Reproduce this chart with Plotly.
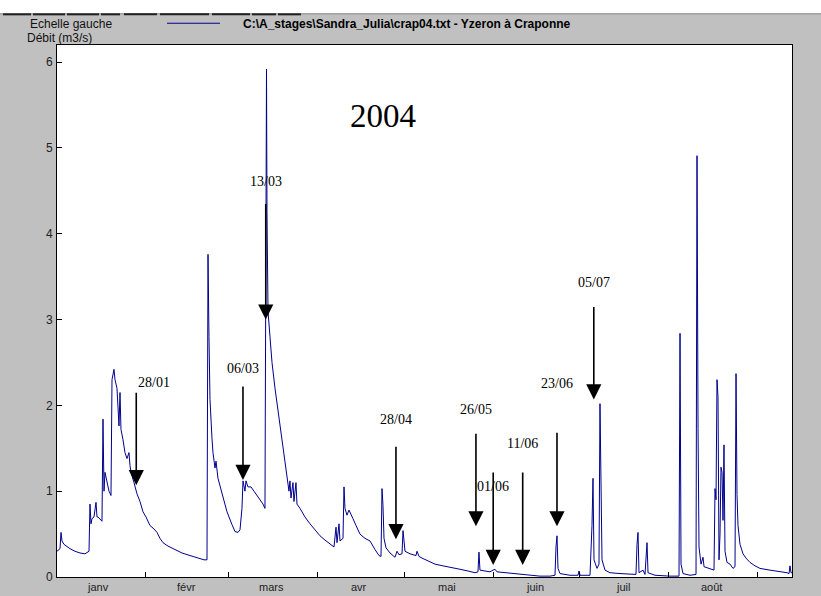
import pandas as pd
import plotly.graph_objects as go

# Débit de l'Yzeron à Craponne, 2004 (temps en jours écoulés depuis le 1er janvier)
t_jours = [
    0.42, 1.46, 1.81, 2.15, 2.85, 4.93, 6.67, 8.41, 10.15, 11.54, 11.88, 12.23, 12.58, 13.27,
    13.97, 14.32, 14.66, 15.71, 16.05, 16.40, 16.75, 17.09, 17.79, 18.49, 19.18, 19.53, 20.22,
    20.57, 21.26, 21.61, 21.96, 22.31, 22.65, 23.35, 24.04, 24.74, 25.43, 25.78, 26.13, 27.17,
    28.21, 29.26, 30.30, 31.34, 32.73, 34.12, 35.16, 36.21, 37.25, 38.99, 41.42, 43.85, 46.63,
    49.41, 51.50, 52.54, 52.89, 53.23, 53.58, 54.28, 54.62, 55.32, 55.67, 56.36, 57.75, 59.49,
    61.23, 62.27, 63.31, 64.01, 64.70, 65.05, 65.74, 66.09, 66.78, 67.83, 68.87, 69.91, 70.96,
    72.00, 72.69, 73.04, 73.22, 73.39, 73.74, 74.43, 75.13, 76.17, 77.21, 78.25, 79.30, 80.34,
    81.03, 81.38, 81.73, 82.42, 82.77, 83.46, 83.81, 84.85, 86.59, 88.33, 90.07, 91.81, 93.55,
    95.28, 96.67, 97.37, 97.72, 98.41, 98.76, 99.80, 100.15, 100.49, 101.19, 101.88, 102.58,
    103.27, 104.32, 105.01, 105.71, 107.45, 109.18, 110.92, 112.31, 113.01, 113.36, 113.70,
    114.05, 114.75, 116.14, 117.88, 118.57, 119.27, 120.31, 120.66, 121.35, 123.09, 125.17,
    125.52, 126.22, 127.26, 129.00, 131.78, 134.54, 136.97, 140.45, 143.23, 145.66, 146.71,
    147.05, 147.40, 149.14, 150.88, 151.92, 152.62, 153.31, 156.09, 157.83, 161.31, 163.74,
    168.26, 171.73, 173.47, 173.82, 174.17, 174.52, 175.21, 178.69, 181.47, 181.82, 182.16,
    185.64, 186.33, 186.68, 187.03, 188.07, 188.76, 189.11, 189.46, 189.81, 190.85, 192.59,
    196.06, 199.54, 201.62, 201.97, 202.32, 202.67, 204.06, 204.75, 205.10, 205.45, 205.80,
    208.23, 213.44, 216.57, 216.92, 217.27, 217.96, 220.40, 222.48, 222.83, 223.18, 223.52,
    224.22, 224.91, 225.26, 227.34, 228.73, 229.08, 229.43, 229.77, 230.12, 230.47, 230.82,
    231.16, 231.51, 231.86, 232.20, 232.55, 233.25, 234.29, 235.33, 236.03, 236.38, 236.72,
    237.07, 237.77, 238.81, 239.85, 241.24, 242.98, 244.72, 248.19, 250.63, 254.10, 254.80,
    255.14, 255.49, 255.84,
]
debit = [
    0.30, 0.33, 0.52, 0.42, 0.38, 0.33, 0.30, 0.28, 0.27, 0.30, 0.85, 0.62, 0.68, 0.70,
    0.87, 0.70, 0.70, 0.67, 0.65, 1.84, 1.00, 1.22, 1.10, 1.00, 0.95, 2.30, 2.42,
    2.30, 2.20, 1.90, 1.76, 2.15, 1.72, 1.60, 1.45, 1.38, 1.45, 1.30, 1.22, 1.10,
    0.97, 0.88, 0.76, 0.70, 0.60, 0.56, 0.52, 0.45, 0.40, 0.36, 0.32, 0.28, 0.25,
    0.22, 0.20, 0.20, 3.76, 2.80, 2.07, 1.61, 1.45, 1.27, 1.35, 1.15, 0.99, 0.76,
    0.61, 0.53, 0.52, 0.55, 0.80, 1.12, 1.00, 1.12, 1.05, 1.05, 1.00, 0.95, 0.90,
    0.85, 0.80, 3.40, 5.92, 4.26, 3.10, 2.80, 2.50, 2.20, 1.95, 1.70, 1.45, 1.20,
    1.00, 1.12, 0.92, 1.10, 0.88, 1.10, 0.85, 0.80, 0.70, 0.62, 0.55, 0.48, 0.43,
    0.38, 0.35, 0.58, 0.40, 0.62, 0.42, 0.45, 1.05, 0.80, 0.72, 0.78, 0.72,
    0.68, 0.60, 0.55, 0.50, 0.45, 0.42, 0.32, 0.25, 0.24, 1.03, 0.83,
    0.45, 0.34, 0.28, 0.23, 0.30, 0.26, 0.27, 0.54, 0.30, 0.27, 0.25,
    0.30, 0.24, 0.22, 0.19, 0.15, 0.13, 0.11, 0.09, 0.07, 0.05, 0.06,
    0.29, 0.08, 0.07, 0.06, 0.08, 0.09, 0.06, 0.05, 0.04, 0.03, 0.02,
    0.01, 0.01, 0.02, 0.35, 0.48, 0.10, 0.04, 0.02, 0.02, 0.07, 0.02,
    0.02, 0.60, 1.15, 0.20, 0.10, 0.15, 2.02, 1.09, 0.20, 0.08, 0.05,
    0.04, 0.03, 0.03, 0.38, 0.52, 0.05, 0.08, 0.03, 0.25, 0.40, 0.05,
    0.02, 0.01, 0.01, 2.84, 0.15, 0.04, 0.02, 0.03, 4.91, 1.73, 0.35,
    0.15, 0.23, 0.12, 0.10, 0.08, 1.03, 0.90, 2.30, 2.10, 0.20, 0.50,
    1.28, 1.22, 0.66, 1.54, 0.30, 0.17, 0.15, 0.10, 0.12, 2.37, 0.96,
    0.60, 0.38, 0.27, 0.22, 0.17, 0.13, 0.10, 0.08, 0.07, 0.05, 0.04,
    0.13, 0.05, 0.05,
]

# Événements repérés (date, débit visé par la flèche, hauteur du libellé en m3/s)
evt_labels = ["28/01", "06/03", "13/03", "28/04", "26/05", "01/06", "11/06", "23/06", "05/07"]
evt_dates = ["2004-01-28 23:00", "2004-03-06 01:00", "2004-03-13 23:00", "2004-04-28 05:00",
             "2004-05-26 00:00", "2004-06-01 00:00", "2004-06-11 06:00", "2004-06-23 04:00",
             "2004-07-05 23:00"]
evt_debit = [1.07, 1.13, 3.00, 0.44, 0.59, 0.14, 0.14, 0.59, 2.07]
evt_label_y = [2.27, 2.43, 4.61, 1.84, 1.95, 1.06, 1.56, 2.25, 3.43]
evt_arrow_len = [94, 95, 117, 94, 94, 94, 94, 95, 94]

mois = ["janv", "févr", "mars", "avr", "mai", "juin", "juil", "août"]
mois_centre = ["2004-01-15 12:00", "2004-02-15 12:00", "2004-03-16", "2004-04-15 12:00",
               "2004-05-16", "2004-06-15 12:00", "2004-07-16", "2004-08-16"]
mois_debut = ["2004-02-01", "2004-03-01", "2004-04-01", "2004-05-01", "2004-06-01",
              "2004-07-01", "2004-08-01", "2004-09-01"]

t0 = pd.Timestamp("2004-01-01")
temps = t0 + pd.to_timedelta(t_jours, unit="D")

W, H = 821, 596
L, R, T, B = 57, 792, 45, 583  # cadre du graphique en pixels


def px(x):
    return (x - L) / (R - L)


def py(y):
    return (B - y) / (B - T)


fig = go.Figure()
fig.add_trace(go.Scatter(x=temps, y=debit, mode="lines",
                         line=dict(color="#00008c", width=1), hoverinfo="skip",
                         showlegend=False))

annotations = []
for lab, d, q, ly, alen in zip(evt_labels, evt_dates, evt_debit, evt_label_y, evt_arrow_len):
    annotations.append(dict(x=d, y=q, xref="x", yref="y", text="", showarrow=True,
                            ax=0, ay=-alen, arrowhead=2, arrowsize=1.9, arrowwidth=1.6,
                            arrowcolor="black"))
    annotations.append(dict(x=d, y=ly, xref="x", yref="y", text=lab, showarrow=False,
                            xanchor="left" if lab == "28/01" else "center", yanchor="middle",
                            font=dict(family="Liberation Serif", size=14, color="black")))

for m, c in zip(mois, mois_centre):
    annotations.append(dict(x=c, y=0, xref="x", yref="paper", yanchor="top", text=m,
                            showarrow=False, yshift=-2,
                            font=dict(family="Liberation Sans", size=11, color="#222")))

annotations += [
    dict(x=px(383), y=py(117), xref="paper", yref="paper", xanchor="center", yanchor="middle",
         text="2004", showarrow=False,
         font=dict(family="Liberation Serif", size=33, color="black")),
    dict(x=px(28), y=py(24), xref="paper", yref="paper", xanchor="left", yanchor="middle",
         text="Echelle gauche",
         showarrow=False, font=dict(family="Liberation Sans", size=12, color="#111")),
    dict(x=px(25), y=py(38), xref="paper", yref="paper", xanchor="left", yanchor="middle",
         text="Débit (m3/s)",
         showarrow=False, font=dict(family="Liberation Sans", size=12, color="#111")),
    dict(x=px(241), y=py(24), xref="paper", yref="paper", xanchor="left", yanchor="middle",
         text="<b>C:\\A_stages\\Sandra_Julia\\crap04.txt - Yzeron à Craponne</b>",
         showarrow=False, font=dict(family="Liberation Sans", size=12, color="black")),
]

shapes = [
    # bandeau blanc en haut de la fenêtre
    dict(type="rect", xref="paper", yref="paper", x0=px(0), x1=px(W), y0=py(13), y1=py(-5),
         fillcolor="white", line=dict(width=0), layer="below"),
    dict(type="line", xref="paper", yref="paper", x0=px(0), x1=px(W), y0=py(13.5), y1=py(13.5),
         line=dict(color="#8a8a8a", width=1)),
    # trait de légende
    dict(type="line", xref="paper", yref="paper", x0=px(167), x1=px(220), y0=py(23), y1=py(23),
         line=dict(color="#00008c", width=1)),
]
# barre d'outils sombre au bord supérieur
for a, b in [(3, 31), (33, 65), (67, 99), (101, 120), (124, 157), (160, 209), (212, 250),
             (252, 276), (278, 301)]:
    shapes.append(dict(type="line", xref="paper", yref="paper", x0=px(a), x1=px(b),
                       y0=py(14), y1=py(14), line=dict(color="#222", width=2)))

fig.update_layout(
    width=W, height=H,
    margin=dict(l=L, r=W - R, t=T, b=H - B, pad=0),
    paper_bgcolor="#c0c0c0", plot_bgcolor="white",
    annotations=annotations, shapes=shapes,
    showlegend=False,
)
fig.update_xaxes(
    type="date", range=["2004-01-01 10:00", "2004-09-12 20:00"],
    tickvals=mois_debut, showticklabels=False, ticks="inside", ticklen=5,
    tickcolor="black", showgrid=False, zeroline=False,
    showline=True, linecolor="black", linewidth=1, mirror=True,
)
fig.update_yaxes(
    range=[0, 6.2], tickvals=[0, 1, 2, 3, 4, 5, 6], ticks="inside", ticklen=5,
    tickcolor="black", showgrid=False, zeroline=False,
    showline=True, linecolor="black", linewidth=1, mirror=True,
    tickfont=dict(family="Liberation Sans", size=12, color="#222"), ticklabelstandoff=1,
)

fig.write_html("out.html")
